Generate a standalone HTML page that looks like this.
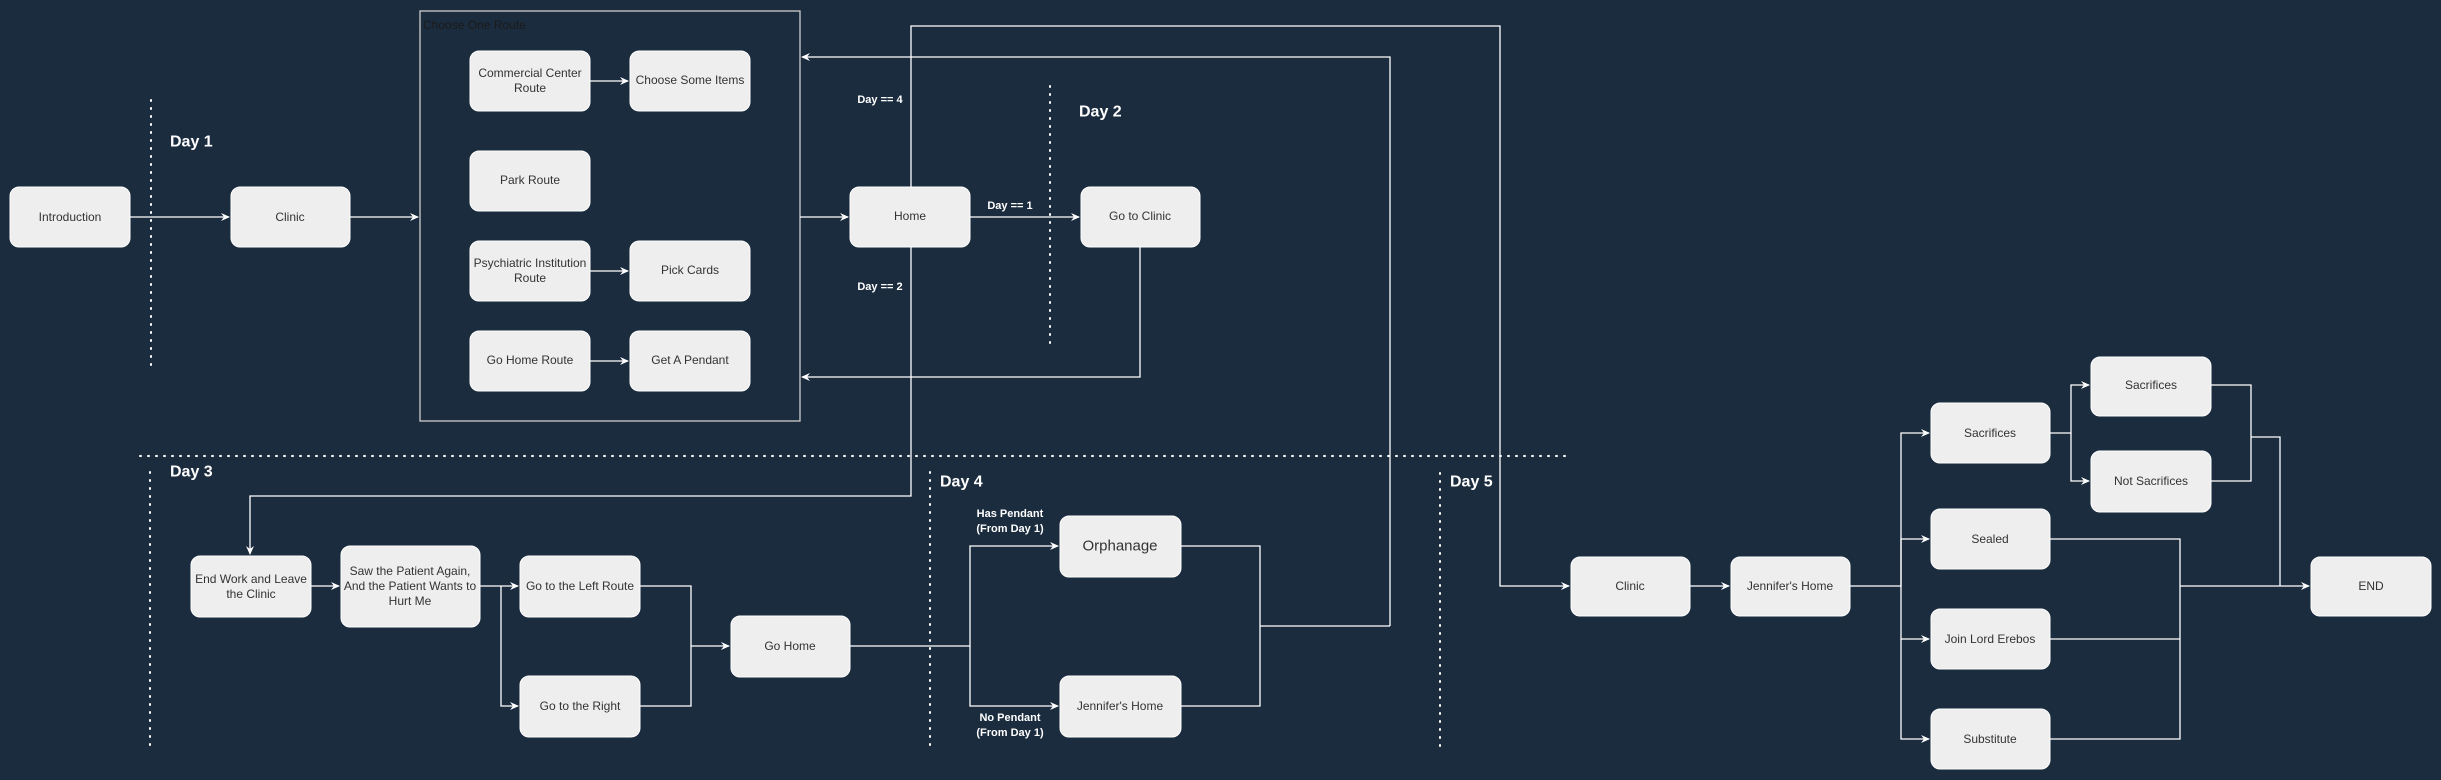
<!DOCTYPE html>
<html><head><meta charset="utf-8"><style>
html,body{margin:0;padding:0;background:#1b2c3e;}
svg{display:block;}
text{font-family:"Liberation Sans",Arial,sans-serif;}
.b{fill:#eeeeee;stroke:#ffffff;stroke-width:1;}
.t{fill:#333333;font-size:12px;text-anchor:middle;dominant-baseline:central;}
.l{fill:none;stroke:#ffffff;stroke-width:1.3;}
.d{fill:none;stroke:#ffffff;stroke-width:2;stroke-dasharray:1 7;stroke-linecap:round;}
.h{fill:#ffffff;font-size:16px;font-weight:bold;dominant-baseline:central;}
.c{fill:#ffffff;font-size:11px;font-weight:bold;text-anchor:middle;dominant-baseline:central;}
</style></head><body>
<svg width="2441" height="780" viewBox="0 0 2441 780" xmlns="http://www.w3.org/2000/svg">
<defs><marker id="a" markerWidth="10" markerHeight="10" refX="8" refY="5" orient="auto" markerUnits="userSpaceOnUse"><path d="M0,1 L9,5 L0,9 L3,5 Z" fill="#fff"/></marker></defs>

<line class="d" x1="151" y1="100" x2="151" y2="367"/>
<line class="d" x1="1050" y1="86" x2="1050" y2="350"/>
<line class="d" x1="140" y1="456" x2="1566" y2="456"/>
<line class="d" x1="150" y1="472" x2="150" y2="746"/>
<line class="d" x1="930" y1="472" x2="930" y2="746"/>
<line class="d" x1="1440" y1="473" x2="1440" y2="746"/>

<text class="h" x="170" y="142">Day 1</text>
<text class="h" x="1079" y="112">Day 2</text>
<text class="h" x="170" y="472">Day 3</text>
<text class="h" x="940" y="482">Day 4</text>
<text class="h" x="1450" y="482">Day 5</text>

<rect x="420" y="11" width="380" height="410" fill="none" stroke="#cccccc" stroke-width="1.3"/>
<text x="423" y="25" fill="#1a1a1a" font-size="12" dominant-baseline="central">Choose One  Route</text>

<path class="l" d="M130,217 H229" marker-end="url(#a)"/>
<path class="l" d="M350,217 H418" marker-end="url(#a)"/>
<path class="l" d="M800,217 H848" marker-end="url(#a)"/>
<path class="l" d="M590,81 H628" marker-end="url(#a)"/>
<path class="l" d="M590,271 H628" marker-end="url(#a)"/>
<path class="l" d="M590,361 H628" marker-end="url(#a)"/>
<path class="l" d="M970,217 H1079" marker-end="url(#a)"/>
<path class="l" d="M1140,247 V377 H802" marker-end="url(#a)"/>
<path class="l" d="M911,187 V26 H1500 V586 H1569" marker-end="url(#a)"/>
<path class="l" d="M911,247 V496 H250 V554" marker-end="url(#a)"/>
<path class="l" d="M1390,626 V57 H802" marker-end="url(#a)"/>
<path class="l" d="M311,586 H339" marker-end="url(#a)"/>
<path class="l" d="M480,586 H518" marker-end="url(#a)"/>
<path class="l" d="M501,586 V706 H518" marker-end="url(#a)"/>
<path class="l" d="M640,586 H691 V706 H640 M691,646 H729" marker-end="url(#a)"/>
<path class="l" d="M850,646 H970 V546 H1058" marker-end="url(#a)"/>
<path class="l" d="M970,646 V706 H1058" marker-end="url(#a)"/>
<path class="l" d="M1181,546 H1260 V706 H1181 M1260,626 H1390"/>
<path class="l" d="M1690,586 H1729" marker-end="url(#a)"/>
<path class="l" d="M1850,586 H1901 V433 H1929" marker-end="url(#a)"/>
<path class="l" d="M1901,586 V539 H1929" marker-end="url(#a)"/>
<path class="l" d="M1901,586 V639 H1929" marker-end="url(#a)"/>
<path class="l" d="M1901,639 V739 H1929" marker-end="url(#a)"/>
<path class="l" d="M2050,433 H2071 V385 H2089" marker-end="url(#a)"/>
<path class="l" d="M2071,433 V481 H2089" marker-end="url(#a)"/>
<path class="l" d="M2211,385 H2251 V481 H2211 M2251,437 H2280 V586"/>
<path class="l" d="M2050,539 H2180 V739 H2050 M2050,639 H2180 M2180,586 H2309" marker-end="url(#a)"/>

<text class="c" x="880" y="100">Day == 4</text>
<text class="c" x="880" y="287">Day == 2</text>
<text class="c" x="1010" y="206">Day == 1</text>
<text class="c" x="1010" y="514">Has Pendant</text>
<text class="c" x="1010" y="529">(From Day 1)</text>
<text class="c" x="1010" y="718">No Pendant</text>
<text class="c" x="1010" y="733">(From Day 1)</text>

<rect class="b" x="10" y="187" width="120" height="60" rx="9"/><text class="t" x="70" y="217">Introduction</text>
<rect class="b" x="231" y="187" width="119" height="60" rx="9"/><text class="t" x="290" y="217">Clinic</text>
<rect class="b" x="470" y="51" width="120" height="60" rx="9"/><text class="t" x="530" y="73">Commercial Center</text><text class="t" x="530" y="88">Route</text>
<rect class="b" x="630" y="51" width="120" height="60" rx="9"/><text class="t" x="690" y="80">Choose Some Items</text>
<rect class="b" x="470" y="151" width="120" height="60" rx="9"/><text class="t" x="530" y="180">Park Route</text>
<rect class="b" x="470" y="241" width="120" height="60" rx="9"/><text class="t" x="530" y="263">Psychiatric Institution</text><text class="t" x="530" y="278">Route</text>
<rect class="b" x="630" y="241" width="120" height="60" rx="9"/><text class="t" x="690" y="270">Pick Cards</text>
<rect class="b" x="470" y="331" width="120" height="60" rx="9"/><text class="t" x="530" y="360">Go Home Route</text>
<rect class="b" x="630" y="331" width="120" height="60" rx="9"/><text class="t" x="690" y="360">Get A  Pendant</text>
<rect class="b" x="850" y="187" width="120" height="60" rx="9"/><text class="t" x="910" y="216">Home</text>
<rect class="b" x="1081" y="187" width="119" height="60" rx="9"/><text class="t" x="1140" y="216">Go to Clinic</text>
<rect class="b" x="191" y="556" width="120" height="61" rx="9"/><text class="t" x="251" y="579">End Work and Leave</text><text class="t" x="251" y="594">the Clinic</text>
<rect class="b" x="341" y="546" width="139" height="81" rx="9"/><text class="t" x="410" y="571">Saw the Patient Again,</text><text class="t" x="410" y="586">And the Patient Wants to</text><text class="t" x="410" y="601">Hurt Me</text>
<rect class="b" x="520" y="556" width="120" height="61" rx="9"/><text class="t" x="580" y="586">Go to the Left Route</text>
<rect class="b" x="520" y="676" width="120" height="61" rx="9"/><text class="t" x="580" y="706">Go to the Right</text>
<rect class="b" x="731" y="616" width="119" height="61" rx="9"/><text class="t" x="790" y="646">Go Home</text>
<rect class="b" x="1060" y="516" width="121" height="61" rx="9"/><text class="t" x="1120" y="546" style="font-size:15px">Orphanage</text>
<rect class="b" x="1060" y="676" width="121" height="61" rx="9"/><text class="t" x="1120" y="706">Jennifer's Home</text>
<rect class="b" x="1571" y="557" width="119" height="59" rx="9"/><text class="t" x="1630" y="586">Clinic</text>
<rect class="b" x="1731" y="557" width="119" height="59" rx="9"/><text class="t" x="1790" y="586">Jennifer's Home</text>
<rect class="b" x="1931" y="403" width="119" height="60" rx="9"/><text class="t" x="1990" y="433">Sacrifices</text>
<rect class="b" x="1931" y="509" width="119" height="60" rx="9"/><text class="t" x="1990" y="539">Sealed</text>
<rect class="b" x="1931" y="609" width="119" height="60" rx="9"/><text class="t" x="1990" y="639">Join Lord Erebos</text>
<rect class="b" x="1931" y="709" width="119" height="60" rx="9"/><text class="t" x="1990" y="739">Substitute</text>
<rect class="b" x="2091" y="357" width="120" height="59" rx="9"/><text class="t" x="2151" y="385">Sacrifices</text>
<rect class="b" x="2091" y="451" width="120" height="61" rx="9"/><text class="t" x="2151" y="481">Not Sacrifices</text>
<rect class="b" x="2311" y="557" width="120" height="59" rx="9"/><text class="t" x="2371" y="586">END</text>
</svg>
</body></html>
